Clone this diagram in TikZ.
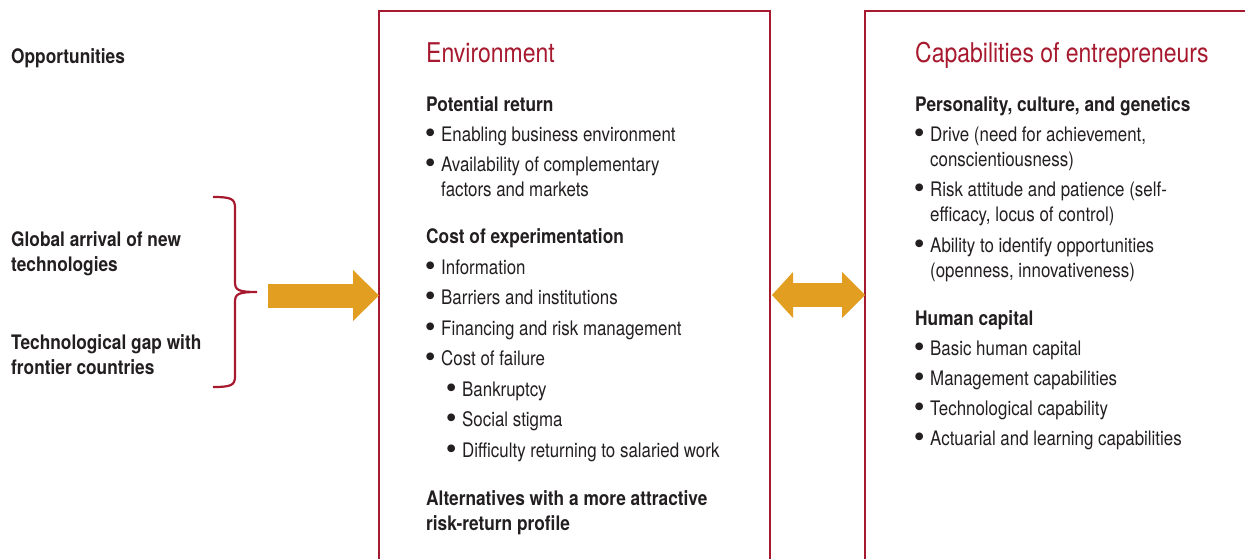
\documentclass[tikz,border=0pt]{standalone}
\usepackage{fontspec}
\setmainfont{TeX Gyre Heros}[FakeStretch=0.845, BoldFeatures={FakeStretch=0.865}]
\newfontfamily\bulfont{TeX Gyre Heros}
\usetikzlibrary{arrows.meta}

\definecolor{wbred}{HTML}{A6192E}
\definecolor{wborange}{HTML}{E29E21}
\definecolor{wbtext}{HTML}{231F20}

\newcommand{\bul}{\llap{\raisebox{-2.2pt}{\bulfont\fontsize{31}{25}\selectfont\textbullet}\hspace{5.5pt}}}

\tikzset{
  body/.style={anchor=base west, inner sep=0pt, align=left, text=wbtext,
    font=\fontsize{20}{25}\selectfont},
  head/.style={body, font=\fontsize{20}{25}\selectfont\bfseries},
  title/.style={anchor=base west, inner sep=0pt, text=wbred,
    font=\fontsize{27.2}{30}\selectfont},
  framebox/.style={draw=wbred, line width=2pt},
  bracket/.style={draw=wbred, line width=2.2pt},
  fatarrow/.style={draw=wborange, line width=24pt},
}

\begin{document}
\begin{tikzpicture}[x=1pt, y=1pt]
    \useasboundingbox (0,0) rectangle (1245,-558);

    % Frames
    \draw[framebox] (379,-570) |- (770,-11) -- (770,-570);
    \draw[framebox] (865,-570) |- (1260,-11);

    % Left column (two-line nodes sit on their last baseline)
    \node[head] (opp) at (11,-63) {Opportunities};
    \node[head] (glob) at (11,-271) {Global arrival of new\\technologies};
    \node[head] (gap) at (11,-374) {Technological gap with\\frontier countries};

    \coordinate (brtip) at (257,-292);
    \draw[bracket] (213,-197) .. controls (232,-197) and (235,-199) .. (235,-208)
        -- (235,-282) .. controls (235,-290) and (238,-292) .. (brtip)
        .. controls (238,-292) and (235,-294) .. (235,-302)
        -- (235,-376) .. controls (235,-385) and (232,-387) .. (213,-387);

    % Arrows
    \coordinate (arrstart) at (268,-295.5);
    \coordinate (envL) at (379,-295.5);
    \coordinate (envR) at (772,-295);
    \coordinate (capL) at (865,-295);
    \draw[fatarrow, -{Triangle[length=26pt, width=51pt, line width=0pt]}] (arrstart) -- (envL);
    \draw[fatarrow, {Triangle[length=21pt, width=46pt, line width=0pt]}-{Triangle[length=23pt, width=46pt, line width=0pt]}] (envR) -- (capL);

    % Environment
    \node[title] (envtitle) at (426,-62) {Environment};
    \node[head] (ret) at (426,-111) {Potential return};
    \node[body] (ret1) at (441,-141) {\bul Enabling business environment};
    \node[body] (ret2) at (441,-196) {\bul Availability of complementary\\factors and markets};
    \node[head] (cost) at (426,-243) {Cost of experimentation};
    \node[body] (cost1) at (441,-274) {\bul Information};
    \node[body] (cost2) at (441,-304.5) {\bul Barriers and institutions};
    \node[body] (cost3) at (441,-335) {\bul Financing and risk management};
    \node[body] (cost4) at (441,-365.5) {\bul Cost of failure};
    \node[body] (fail1) at (462,-396) {\bul Bankruptcy};
    \node[body] (fail2) at (462,-426.5) {\bul Social stigma};
    \node[body] (fail3) at (462,-457) {\bul Difficulty returning to salaried work};
    \node[head] (alt) at (426,-530) {Alternatives with a more attractive\\risk-return profile};

    % Capabilities
    \node[title] (captitle) at (915,-62) {Capabilities of entrepreneurs};
    \node[head] (pers) at (915,-111) {Personality, culture, and genetics};
    \node[body] (pers1) at (930,-166) {\bul Drive (need for achievement,\\conscientiousness)};
    \node[body] (pers2) at (930,-221.5) {\bul Risk attitude and patience (self-\\efficacy, locus of control)};
    \node[body] (pers3) at (930,-277) {\bul Ability to identify opportunities\\(openness, innovativeness)};
    \node[head] (hum) at (915,-325) {Human capital};
    \node[body] (hum1) at (930,-355) {\bul Basic human capital};
    \node[body] (hum2) at (930,-385) {\bul Management capabilities};
    \node[body] (hum3) at (930,-415) {\bul Technological capability};
    \node[body] (hum4) at (930,-445) {\bul Actuarial and learning capabilities};
\end{tikzpicture}
\end{document}
